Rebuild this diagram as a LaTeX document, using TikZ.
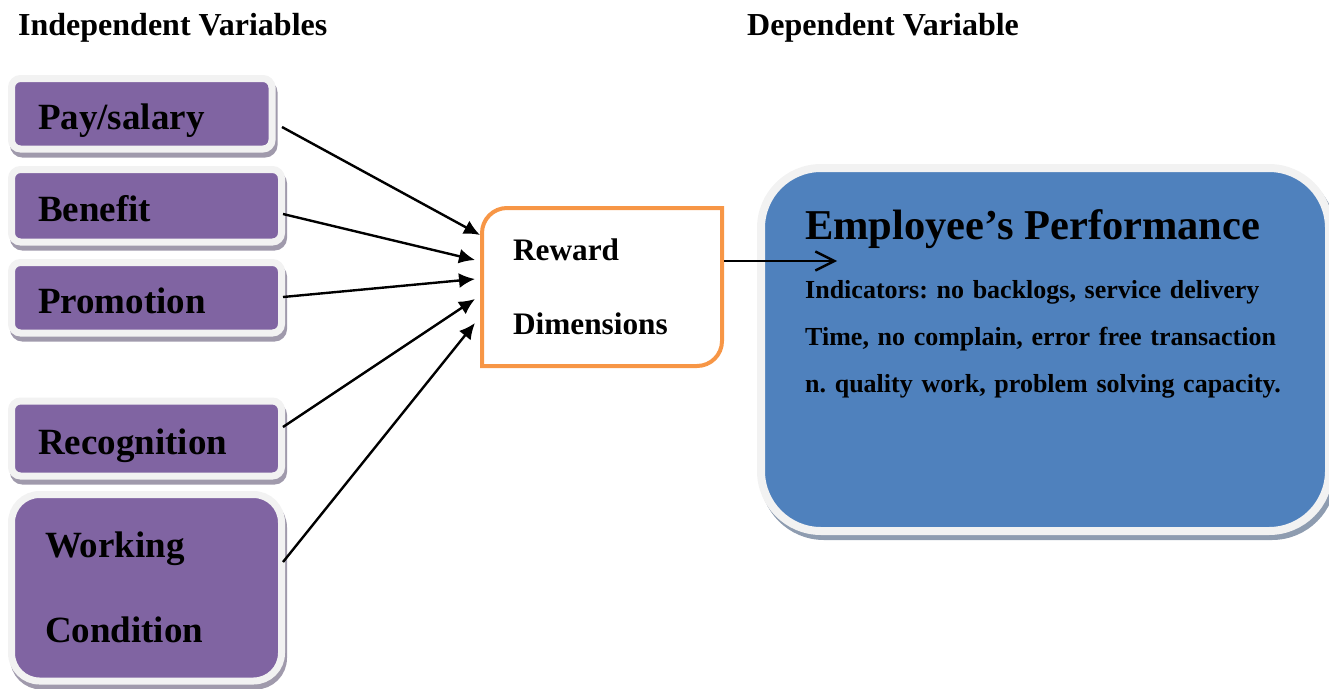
\documentclass[tikz,border=0pt]{standalone}
\usepackage{fontspec}
\setmainfont{Liberation Serif}
\usetikzlibrary{positioning,arrows.meta}

\definecolor{boxviolet}{HTML}{8064A2}
\definecolor{boxblue}{HTML}{4F81BD}
\definecolor{rimgrey}{HTML}{F2F2F2}
\definecolor{violetshade}{HTML}{A09AAC}
\definecolor{blueshade}{HTML}{8E9CB0}
\definecolor{rimorange}{HTML}{F79646}

\frenchspacing

\begin{document}
\begin{tikzpicture}[
  x=1pt,y=-1pt,
  heading/.style={anchor=base west,inner sep=0pt,font=\fontsize{32}{38}\selectfont\bfseries},
  indep/.style={rectangle,rounded corners=9pt,draw=rimgrey,line width=7pt,fill=boxviolet,
    preaction={draw=violetshade,fill=violetshade,transform canvas={xshift=2pt,yshift=-5pt}},
    outer sep=0pt,inner xsep=26.5pt,text width=217pt,align=left,
    font=\fontsize{37}{44}\selectfont\bfseries},
  oneline/.style={text height=31pt,text depth=0pt},
  reward/.style={rectangle,outer sep=0pt,minimum width=240pt,minimum height=158pt,
    inner xsep=31pt,text width=178pt,align=left,font=\fontsize{31.3}{74}\selectfont\bfseries},
  frame/.style={draw=rimorange,line width=4pt},
  dep/.style={rectangle,rounded corners=60pt,draw=rimgrey,line width=8pt,fill=boxblue,
    preaction={draw=blueshade,fill=blueshade,transform canvas={xshift=3pt,yshift=-5pt}},
    outer sep=0pt,minimum width=568pt,minimum height=363pt},
  feed/.style={line width=2.4pt,-{Latex[length=16pt,width=15pt]}},
  result/.style={line width=2.4pt,-{Straight Barb[length=19pt,width=19pt]}},
  node distance=20.5pt
]
  \useasboundingbox (0,0) rectangle (1329,688);

  \node[heading] (indephead) at (18,35) {Independent Variables};
  \node[heading] (dephead) at (747,35) {Dependent Variable};

  % reward dimensions on the left
  \node[indep,oneline,minimum height=70.5pt,text width=207.5pt] (pay) at (141.75,113.75) {Pay/salary};
  \node[indep,oneline,minimum height=72.5pt,below=of pay.south west,anchor=north west] (benefit) {Benefit};
  \node[indep,oneline,minimum height=70.5pt,below=of benefit] (promo) {Promotion};
  \node[indep,oneline,minimum height=75pt,below=68pt of promo] (recog) {Recognition};
  \node[indep,minimum height=186.5pt,rounded corners=28pt,inner xsep=33.5pt,text width=203pt,
    font=\fontsize{37}{85}\selectfont\bfseries,below=18.5pt of recog] (work) {Working\\Condition};

  \node[reward] (reward) at (602,287) {Reward\\Dimensions};
  \draw[frame] (reward.north east) -- ([yshift=25pt]reward.south east)
    arc[start angle=0,end angle=-90,radius=25pt] -- (reward.south west)
    -- ([yshift=-25pt]reward.north west) arc[start angle=180,end angle=90,radius=25pt] -- cycle;

  % performance box
  \node[dep] (perf) at (1045,349.5) {};
  \node[anchor=base west,inner sep=0pt,font=\fontsize{42.5}{50}\selectfont\bfseries] (perfhead)
    at (805,239) {Employee’s Performance};
  \node[anchor=base west,inner sep=0pt,text width=510pt,align=left,
    font=\fontsize{26}{47}\selectfont\bfseries] (perfind) at (805,298)
    {Indicators: no backlogs, service delivery\\
     Time, no complain, error free transaction\\
     n. quality work, problem solving capacity.};

  \draw[feed] ([xshift=10pt,yshift=-13.25pt]pay.east) -- ([xshift=-2pt,yshift=52pt]reward.west);
  \draw[feed] ([xshift=1.5pt,yshift=-8.25pt]benefit.east) -- ([xshift=-7pt,yshift=27pt]reward.west);
  \draw[feed] ([xshift=1.5pt,yshift=0.75pt]promo.east) -- ([xshift=-7pt,yshift=8pt]reward.west);
  \draw[feed] ([xshift=1.5pt,yshift=11.5pt]recog.east) -- ([xshift=-7pt,yshift=-12pt]reward.west);
  \draw[feed] ([xshift=1.5pt,yshift=25.75pt]work.east) -- ([xshift=-7pt,yshift=-36pt]reward.west);

  \draw[result] ([xshift=2pt,yshift=26pt]reward.east) -- ([xshift=76pt,yshift=88.5pt]perf.west);
\end{tikzpicture}
\end{document}
